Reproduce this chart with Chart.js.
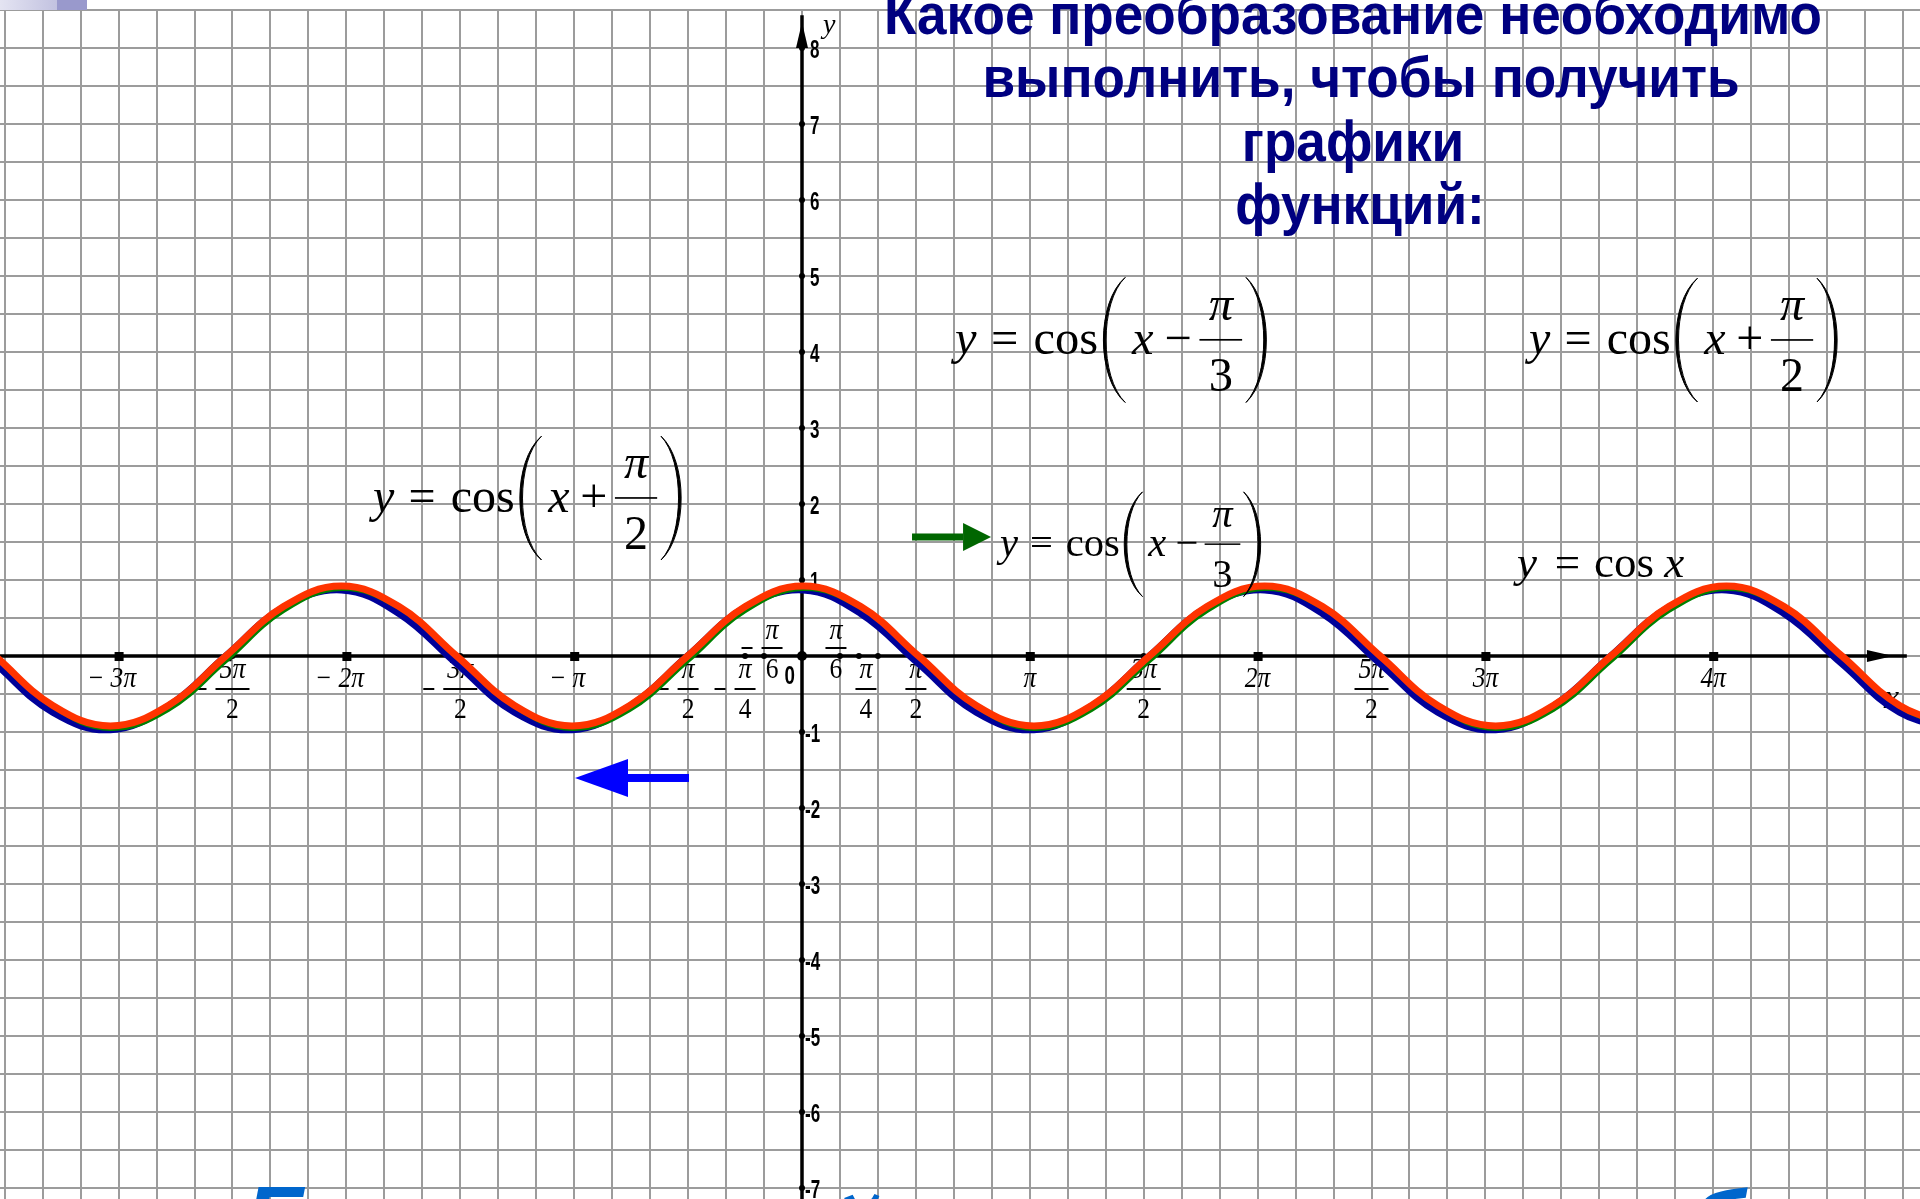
<!DOCTYPE html>
<html>
<head>
<meta charset="utf-8">
<script src="https://cdn.jsdelivr.net/npm/chart.js@4.4.1/dist/chart.umd.min.js"></script>
<style>
  html, body { margin: 0; padding: 0; background: #fff; overflow: hidden; }
  canvas { display: block; }
</style>
</head>
<body>
<canvas id="cosChart" width="1920" height="1199"></canvas>
<script>
// x values are in units of pi (one sample every quarter of a wave)
var xs = [-3.542, -3.289, -3.036, -2.782, -2.529, -2.276, -2.022, -1.769, -1.516, -1.262,
  -1.009, -0.756, -0.502, -0.249, 0.005, 0.258, 0.512, 0.765, 1.018, 1.271,
  1.525, 1.778, 2.031, 2.285, 2.538, 2.791, 3.045, 3.298, 3.551, 3.805,
  4.058, 4.311, 4.565, 4.818, 5.072];

var redY = [0, -0.65, -0.92, -0.65, 0, 0.65, 0.92, 0.65,
  0, -0.65, -0.92, -0.65, 0, 0.65, 0.92, 0.65,
  0, -0.65, -0.92, -0.65, 0, 0.65, 0.92, 0.65,
  0, -0.65, -0.92, -0.65, 0, 0.65, 0.92, 0.65,
  0, -0.65, -0.92];
var greenY = [-0.01, -0.67, -0.96, -0.71, -0.07, 0.59, 0.88, 0.63,
  -0.01, -0.67, -0.96, -0.71, -0.07, 0.59, 0.88, 0.63,
  -0.01, -0.67, -0.96, -0.71, -0.07, 0.59, 0.88, 0.63,
  -0.01, -0.67, -0.96, -0.71, -0.07, 0.59, 0.88, 0.63,
  -0.01, -0.67, -0.96];
var blueY = [-0.10, -0.74, -0.97, -0.66, 0.00, 0.64, 0.87, 0.56,
  -0.10, -0.74, -0.97, -0.66, 0.00, 0.64, 0.87, 0.56,
  -0.10, -0.74, -0.97, -0.66, 0.00, 0.64, 0.87, 0.56,
  -0.10, -0.74, -0.97, -0.66, 0.00, 0.64, 0.87, 0.56,
  -0.10, -0.74, -0.97];

// tick labels
var piTicks = [-3, -2, -1, 1, 2, 3, 4];
var piLabels = ["− 3π", "− 2π", "− π", "π", "2π", "3π", "4π"];
var fracTicks = [-2.5, -1.5, -0.5, -0.25, -1 / 6, 1 / 6, 0.25, 0.5, 1.5, 2.5];
var fracNum = ["5π", "3π", "π", "π", "π", "π", "π", "π", "3π", "5π"];
var fracDen = ["2", "2", "2", "4", "6", "6", "4", "2", "2", "2"];
var dotTicks = [-2.5, -1.5, -0.5, -0.25, -1 / 6, 1 / 6, 0.25, 1 / 3, 0.5, 1.5, 2.5];
var yTicks = [8, 7, 6, 5, 4, 3, 2, 1, -1, -2, -3, -4, -5, -6, -7];

var titleLines = ["Какое преобразование необходимо", "выполнить, чтобы получить", "графики", "функций:"];

var SERIF = '"Liberation Serif", "Times New Roman", serif';
var SANS = '"Liberation Sans", Arial, sans-serif';
var NARROW = '"Liberation Sans Narrow", "Arial Narrow", "Liberation Sans", Arial, sans-serif';

function points(ys) {
  return xs.map(function (x, i) { return { x: x, y: ys[i] }; });
}

// grid: every pi/6 across, every half unit up
var gridX = [];
for (var k = -21; k <= 29; k++) gridX.push(k / 6);
var gridY = [];
for (var j = -14; j <= 17; j++) gridY.push(j / 2);

function put(ctx, s, x, y, font, o) {
  o = o || {};
  ctx.save();
  ctx.font = font;
  ctx.fillStyle = o.color || "#000";
  ctx.textAlign = o.align || "left";
  ctx.textBaseline = "alphabetic";
  ctx.translate(x, y);
  ctx.scale(o.sx || 1, o.sy || 1);
  ctx.fillText(s, 0, 0);
  ctx.restore();
}

function paren(ctx, x, top, bottom, w, left) {
  var h = bottom - top;
  ctx.beginPath();
  if (left) {
    ctx.moveTo(x + w, top);
    ctx.bezierCurveTo(x - w / 3, top + h * 0.2, x - w / 3, bottom - h * 0.2, x + w, bottom);
    ctx.bezierCurveTo(x - w / 3 + 3.5, bottom - h * 0.2, x - w / 3 + 3.5, top + h * 0.2, x + w, top);
  } else {
    ctx.moveTo(x, top);
    ctx.bezierCurveTo(x + w * 4 / 3, top + h * 0.2, x + w * 4 / 3, bottom - h * 0.2, x, bottom);
    ctx.bezierCurveTo(x + w * 4 / 3 - 3.5, bottom - h * 0.2, x + w * 4 / 3 - 3.5, top + h * 0.2, x, top);
  }
  ctx.fillStyle = "#000";
  ctx.fill();
  ctx.lineWidth = 1;
  ctx.strokeStyle = "#000";
  ctx.stroke();
}

function formula(ctx, x0, b, s, sign, den) {
  var it = "italic " + s + "px " + SERIF, up = s + "px " + SERIF;
  put(ctx, "y", x0, b, it);
  put(ctx, "=", x0 + 0.74 * s, b, up);
  put(ctx, "cos", x0 + 1.62 * s, b, up);
  paren(ctx, x0 + 3.06 * s, b - 1.58 * s, b + 1.0 * s, 0.45 * s, true);
  put(ctx, "x", x0 + 3.65 * s, b, it);
  put(ctx, sign, x0 + 4.32 * s, b, up);
  var bx = x0 + 5.04 * s, bw = 0.88 * s;
  ctx.fillStyle = "#000";
  ctx.fillRect(bx, b - 0.31 * s, bw, Math.max(1.5, s * 0.035));
  put(ctx, "π", bx + bw / 2, b - 0.71 * s, it, { align: "center" });
  put(ctx, den, bx + bw / 2, b + 0.77 * s, up, { align: "center" });
  paren(ctx, x0 + 6.0 * s, b - 1.58 * s, b + 1.0 * s, 0.42 * s, false);
}

function arrow(ctx, tail, tip, yPx, thick, headLen, headHalf, color) {
  var dir = tip > tail ? 1 : -1;
  var base = tip - dir * headLen;
  ctx.fillStyle = color;
  ctx.fillRect(Math.min(tail, base), yPx - thick / 2, Math.abs(base - tail), thick);
  ctx.beginPath();
  ctx.moveTo(tip, yPx);
  ctx.lineTo(base, yPx - headHalf);
  ctx.lineTo(base, yPx + headHalf);
  ctx.closePath();
  ctx.fill();
}

var axesPlugin = {
  id: "axes",
  beforeDatasetsDraw: function (chart) {
    var ctx = chart.ctx, X = chart.scales.x, Y = chart.scales.y;
    var x0 = X.getPixelForValue(0), y0 = Y.getPixelForValue(0);
    ctx.save();
    // axis lines
    ctx.strokeStyle = "#000";
    ctx.lineWidth = 3.5;
    ctx.beginPath();
    ctx.moveTo(0, y0);
    ctx.lineTo(X.getPixelForValue(4.85), y0);
    ctx.moveTo(x0, Y.getPixelForValue(8.43));
    ctx.lineTo(x0, chart.height);
    ctx.stroke();
    ctx.fillStyle = "#000";
    // arrow heads
    ctx.beginPath();
    ctx.moveTo(X.getPixelForValue(4.79), y0);
    ctx.lineTo(X.getPixelForValue(4.675), y0 - 6);
    ctx.lineTo(X.getPixelForValue(4.675), y0 + 6);
    ctx.closePath();
    ctx.fill();
    ctx.beginPath();
    ctx.moveTo(x0, Y.getPixelForValue(8.34));
    ctx.lineTo(x0 - 6, Y.getPixelForValue(8.0));
    ctx.lineTo(x0 + 6, Y.getPixelForValue(8.0));
    ctx.closePath();
    ctx.fill();

    // tick marks
    piTicks.forEach(function (v) {
      var px = X.getPixelForValue(v);
      ctx.fillRect(px - 4, y0 - 4, 9, 9);
    });
    dotTicks.forEach(function (v) {
      ctx.beginPath();
      ctx.arc(X.getPixelForValue(v), y0, 3, 0, Math.PI * 2);
      ctx.fill();
    });
    ctx.beginPath();
    ctx.arc(x0, y0, 5, 0, Math.PI * 2);
    ctx.fill();
    yTicks.forEach(function (v) {
      ctx.beginPath();
      ctx.arc(x0, Y.getPixelForValue(v), 3, 0, Math.PI * 2);
      ctx.fill();
    });

    // x labels
    var lf = "italic 29px " + SERIF;
    piTicks.forEach(function (v, i) {
      var px = X.getPixelForValue(v) + (v < 0 ? -7 : 0);
      put(ctx, piLabels[i], px, y0 + 31, lf, { align: "center", sx: 0.88 });
    });
    fracTicks.forEach(function (v, i) {
      var px = X.getPixelForValue(v);
      var above = Math.abs(Math.abs(v) - 1 / 6) < 1e-6;
      if (above) px += v < 0 ? 8 : -4;
      if (Math.abs(v - 0.25) < 1e-6) px += 7;
      var nb = above ? y0 - 17 : y0 + 22;
      var bar = above ? y0 - 8 : y0 + 33;
      var db = above ? y0 + 22 : y0 + 62;
      var bw = fracNum[i].length > 1 ? 34 : 21;
      ctx.fillRect(px - bw / 2, bar - 1, bw, 2);
      if (v < 0) ctx.fillRect(px - bw / 2 - 20, bar - 1, 11, 2);
      put(ctx, fracNum[i], px, nb, lf, { align: "center", sx: 0.9 });
      put(ctx, fracDen[i], px, db, "29px " + SERIF, { align: "center", sx: 0.88 });
    });
    put(ctx, "0", x0 - 7, y0 + 28, "bold 25px " + SANS, { align: "right", sx: 0.75 });
    put(ctx, "x", X.getPixelForValue(4.75), y0 + 52, "italic 34px " + SERIF);

    // y labels
    yTicks.forEach(function (v) {
      put(ctx, String(v), x0 + (v < 0 ? 3 : 8), Y.getPixelForValue(v) + 10,
        "bold 25px " + SANS, { sx: 0.68 });
    });
    put(ctx, "y", x0 + 21, Y.getPixelForValue(8.2), "italic 28px " + SERIF);
    ctx.restore();
  },
  afterDatasetsDraw: function (chart) {
    var ctx = chart.ctx, X = chart.scales.x, Y = chart.scales.y;
    ctx.save();

    // top-left strip
    var g = ctx.createLinearGradient(0, 0, 57, 0);
    g.addColorStop(0, "#e4e4f2");
    g.addColorStop(1, "#c2c2e0");
    ctx.fillStyle = g;
    ctx.fillRect(0, 0, 57, 10);
    ctx.fillStyle = "#9999cc";
    ctx.fillRect(57, 0, 30, 10);

    // title
    ctx.font = "bold 58px " + NARROW;
    var sx = 938 / ctx.measureText(titleLines[0]).width;
    var centers = [1353, 1361, 1353, 1360];
    var bases = [34, 97, 161, 224];
    titleLines.forEach(function (t, i) {
      put(ctx, t, centers[i], bases[i], "bold 58px " + NARROW, { align: "center", sx: sx, color: "#000080" });
    });

    // formulas
    formula(ctx, 373, 512, 48, "+", "2");
    formula(ctx, 955, 354, 48.5, "−", "3");
    formula(ctx, 1529, 354, 48, "+", "2");
    formula(ctx, 1000, 556, 40.6, "−", "3");
    var s = 45, it = "italic " + s + "px " + SERIF, up = s + "px " + SERIF;
    put(ctx, "y", 1517, 577, it);
    put(ctx, "=", 1517 + 0.84 * s, 577, up);
    put(ctx, "cos", 1517 + 1.71 * s, 577, up);
    put(ctx, "x", 1517 + 3.27 * s, 577, it);

    // arrows
    arrow(ctx, X.getPixelForValue(-0.496), X.getPixelForValue(-0.9965), Y.getPixelForValue(-1.605), 8, 53, 19, "#0000ff");
    arrow(ctx, X.getPixelForValue(0.483), X.getPixelForValue(0.83), Y.getPixelForValue(1.566), 7, 28, 14, "#006600");

    // cut-off line of text at the bottom edge
    var bf = "bold italic 90px " + SANS;
    put(ctx, "Б", 245, 1250, bf, { color: "#0066cc" });
    put(ctx, "й", 828, 1262, bf, { color: "#0066cc" });
    put(ctx, "б", 1690, 1254, bf, { color: "#0066cc" });
    ctx.restore();
  }
};

var ctx = document.getElementById("cosChart").getContext("2d");
var cosChart = new Chart(ctx, {
  type: "line",
  data: {
    datasets: [
      {
        label: "red",
        data: points(redY),
        borderColor: "#ff3300",
        borderWidth: 7,
      },
      {
        label: "green",
        data: points(greenY),
        borderColor: "#008000",
        borderWidth: 4,
      },
      {
        label: "blue",
        data: points(blueY),
        borderColor: "#000099",
        borderWidth: 7,
      },
    ],
  },
  options: {
    responsive: false,
    animation: false,
    layout: { padding: { top: 9, left: 0, right: 0, bottom: 0 } },
    elements: {
      point: { radius: 0 },
      line: { tension: 0.4, capBezierPoints: false, fill: false },
    },
    plugins: {
      legend: { display: false },
      tooltip: { enabled: false },
    },
    scales: {
      x: {
        type: "linear",
        min: -3.5206,
        max: 4.9078,
        border: { display: false },
        ticks: { display: false },
        grid: { color: "#9c9c9c", lineWidth: 2, drawTicks: false },
        afterBuildTicks: function (s) { s.ticks = gridX.map(function (v) { return { value: v }; }); },
      },
      y: {
        type: "linear",
        min: -7.1447,
        max: 8.5132,
        border: { display: false },
        ticks: { display: false },
        grid: { color: "#9c9c9c", lineWidth: 2, drawTicks: false },
        afterBuildTicks: function (s) { s.ticks = gridY.map(function (v) { return { value: v }; }); },
      },
    },
  },
  plugins: [axesPlugin],
});
</script>
</body>
</html>
